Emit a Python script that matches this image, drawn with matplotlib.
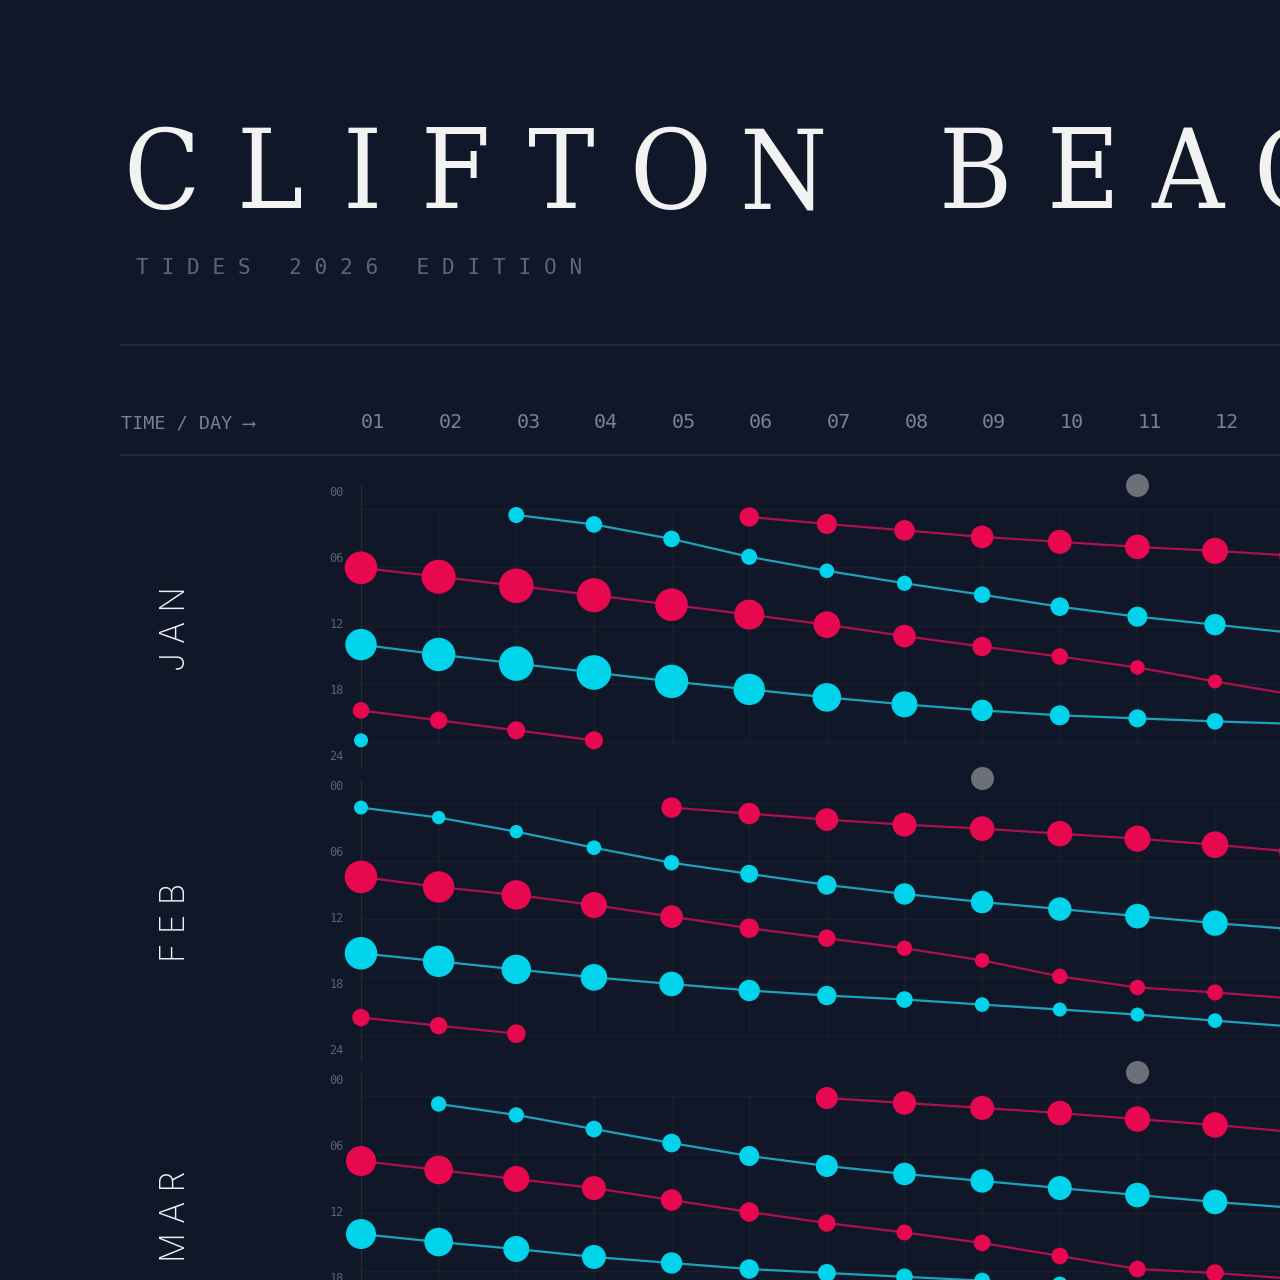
import numpy as np
import matplotlib
matplotlib.use("Agg")
import matplotlib.pyplot as plt
from matplotlib import font_manager as fm
from matplotlib import transforms

nan = np.nan

# ---------------- data ----------------
DAYS = list(range(1, 14))
DAY_LABELS = [f"{d:02d}" for d in range(1, 13)]
HOUR_LABELS = ["00", "06", "12", "18", "24"]
MONTHS = ["J A N", "F E B", "M A R"]
MOON_DAY = [11, 9, 11]

# times (hour of day) per tide series, NaN = no such tide that day
JAN_LOW_A_T = [nan, nan, 0.62, 1.59, 3.08, 4.92, 6.36, 7.64, 8.82, 10.05, 11.08, 11.90, 12.75]
JAN_LOW_A_H = [nan, nan, 1.60, 1.66, 1.66, 1.60, 1.46, 1.52, 1.66, 1.86, 2.00, 2.14, 2.20]
JAN_HIGH_B_T = [nan, nan, nan, nan, nan, 0.82, 1.54, 2.20, 2.87, 3.38, 3.90, 4.31, 4.80]
JAN_HIGH_B_H = [nan, nan, nan, nan, nan, 1.94, 2.00, 2.06, 2.26, 2.40, 2.46, 2.60, 2.66]
JAN_HIGH_C_T = [6.05, 6.97, 7.90, 8.87, 9.85, 10.87, 11.90, 13.08, 14.15, 15.18, 16.30, 17.74, 19.10]
JAN_HIGH_C_H = [3.26, 3.40, 3.46, 3.40, 3.26, 3.00, 2.66, 2.26, 1.94, 1.66, 1.46, 1.40, 1.40]
JAN_LOW_D_T = [13.95, 14.97, 15.90, 16.82, 17.74, 18.56, 19.38, 20.10, 20.72, 21.23, 21.54, 21.85, 22.10]
JAN_LOW_D_H = [3.14, 3.34, 3.46, 3.46, 3.34, 3.14, 2.86, 2.60, 2.14, 2.00, 1.80, 1.66, 1.60]
JAN_HIGH_E_T = [20.72, 21.74, 22.77, 23.80] + [nan] * 9
JAN_HIGH_E_H = [1.66, 1.74, 1.80, 1.80] + [nan] * 9
JAN_LOW_F_T = [23.80] + [nan] * 12
JAN_LOW_F_H = [1.40] + [nan] * 12

FEB_LOW_A_T = [0.52, 1.55, 3.00, 4.65, 6.20, 7.34, 8.48, 9.41, 10.24, 10.96, 11.69, 12.41, 13.03]
FEB_LOW_A_H = [1.40, 1.34, 1.34, 1.46, 1.54, 1.80, 1.94, 2.14, 2.26, 2.34, 2.46, 2.54, 2.60]
FEB_HIGH_B_T = [nan, nan, nan, nan, 0.52, 1.14, 1.76, 2.28, 2.69, 3.21, 3.72, 4.34, 5.07]
FEB_HIGH_B_H = [nan, nan, nan, nan, 2.04, 2.14, 2.26, 2.40, 2.46, 2.54, 2.60, 2.66, 2.70]
FEB_HIGH_C_T = [7.65, 8.69, 9.51, 10.55, 11.74, 12.93, 13.96, 15.00, 16.24, 17.89, 19.03, 19.54, 20.17]
FEB_HIGH_C_H = [3.26, 3.14, 2.94, 2.60, 2.26, 1.94, 1.74, 1.54, 1.46, 1.54, 1.54, 1.60, 1.66]
FEB_LOW_D_T = [15.51, 16.34, 17.17, 17.99, 18.67, 19.34, 19.86, 20.27, 20.79, 21.30, 21.82, 22.44, 23.06]
FEB_LOW_D_H = [3.26, 3.14, 2.94, 2.66, 2.46, 2.14, 1.94, 1.66, 1.46, 1.40, 1.40, 1.46, 1.50]
FEB_HIGH_E_T = [22.13, 22.96, 23.78] + [nan] * 10
FEB_HIGH_E_H = [1.74, 1.74, 1.86] + [nan] * 10

MAR_LOW_A_T = [nan, 0.82, 1.95, 3.40, 4.84, 6.17, 7.20, 8.02, 8.74, 9.47, 10.19, 10.90, 11.50]
MAR_LOW_A_H = [nan, 1.54, 1.54, 1.66, 1.86, 2.00, 2.20, 2.26, 2.34, 2.40, 2.46, 2.46, 2.46]
MAR_HIGH_B_T = [nan] * 6 + [0.21, 0.72, 1.23, 1.75, 2.37, 2.98, 3.70]
MAR_HIGH_B_H = [nan] * 6 + [2.20, 2.34, 2.40, 2.46, 2.54, 2.54, 2.54]
MAR_HIGH_C_T = [6.69, 7.61, 8.54, 9.47, 10.70, 11.93, 13.07, 14.04, 15.12, 16.46, 17.80, 18.21, 18.80]
MAR_HIGH_C_H = [3.00, 2.86, 2.60, 2.40, 2.14, 1.94, 1.74, 1.60, 1.66, 1.66, 1.66, 1.74, 1.80]
MAR_LOW_D_T = [14.20, 15.02, 15.74, 16.56, 17.18, 17.80, 18.21, 18.60, 19.00, 19.40, 19.80, 20.20, 20.70]
MAR_LOW_D_H = [3.00, 2.86, 2.60, 2.40, 2.14, 1.94, 1.80, 1.66, 1.60, 1.60, 1.60, 1.60, 1.60]

# ---------------- style ----------------
BG = "#0f1729"
RED = "#e8084f"
CYAN = "#00d3ea"
RED_LINE = "#b0104c"
CYAN_LINE = "#1aa4bc"
MOON = "#6e7079"
GRID = "#1b1f28"
SPINE = "#2c2b25"
RULE = "#272b33"
TXT_GRAY = "#7a8090"
TICK_GRAY = "#5c6270"
WHITE = "#f2f2f2"

W = H = 1280
DPI = 100
fig = plt.figure(figsize=(W / DPI, H / DPI), dpi=DPI, facecolor=BG)

def fx(px):
    return px / W

def fy(py):
    return 1 - py / H

MONO = ["DejaVu Sans Mono", "DejaVu Sans"]

# title font: prefer a condensed serif if installed
title_prop = None
for f in fm.fontManager.ttflist:
    if "Serif" in f.name and str(f.stretch) in ("condensed", "semi-condensed", "extra-condensed") \
            and f.style == "normal" and f.weight in (400, "normal", "regular", "book"):
        title_prop = fm.FontProperties(fname=f.fname, size=80)
        break
if title_prop is None:
    title_prop = fm.FontProperties(family="Liberation Serif", size=84)

title_letters = list("CLIFTON") + list("BEACH")
title_centers = [162, 270, 362, 455, 561, 670, 783, 975, 1083, 1188, 1292, 1400]
for ch, cx in zip(title_letters, title_centers):
    fig.text(fx(cx), fy(208), ch, fontproperties=title_prop, color=WHITE,
             ha="center", va="baseline")

fig.text(fx(136), fy(268), "T I D E S   2 0 2 6   E D I T I O N", family=MONO,
         fontsize=15.2, color="#5f6574", ha="left", va="center")

# rules
for ry in (345, 455):
    fig.add_artist(plt.Line2D([fx(120), 1.0], [fy(ry), fy(ry)], color=RULE, lw=1.3))

fig.text(fx(121), fy(423), "TIME / DAY \u27f6", family=MONO, fontsize=13.3,
         color=TXT_GRAY, ha="left", va="center")

# panels
X_LEFT = 361
DAY_PX = 77.64
Y0 = [509, 802.5, 1096]
PX_PER_H = 9.72
TOP_OFF = 23
PANEL_H = 281
XMAX = 20

panel_series = [
    [(JAN_LOW_A_T, JAN_LOW_A_H, "low"), (JAN_HIGH_B_T, JAN_HIGH_B_H, "high"),
     (JAN_HIGH_C_T, JAN_HIGH_C_H, "high"), (JAN_LOW_D_T, JAN_LOW_D_H, "low"),
     (JAN_HIGH_E_T, JAN_HIGH_E_H, "high"), (JAN_LOW_F_T, JAN_LOW_F_H, "low")],
    [(FEB_LOW_A_T, FEB_LOW_A_H, "low"), (FEB_HIGH_B_T, FEB_HIGH_B_H, "high"),
     (FEB_HIGH_C_T, FEB_HIGH_C_H, "high"), (FEB_LOW_D_T, FEB_LOW_D_H, "low"),
     (FEB_HIGH_E_T, FEB_HIGH_E_H, "high")],
    [(MAR_LOW_A_T, MAR_LOW_A_H, "low"), (MAR_HIGH_B_T, MAR_HIGH_B_H, "high"),
     (MAR_HIGH_C_T, MAR_HIGH_C_H, "high"), (MAR_LOW_D_T, MAR_LOW_D_H, "low")],
]

PT = 72 / DPI

def size_from_height(h):
    r_px = 5.0 * np.asarray(h, dtype=float)
    return (2 * r_px * PT) ** 2

axes = []
for m, (y0, month, series) in enumerate(zip(Y0, MONTHS, panel_series)):
    top_px = y0 - TOP_OFF
    ax = fig.add_axes([fx(X_LEFT), fy(top_px + PANEL_H), (XMAX - 1) * DAY_PX / W, PANEL_H / H])
    ax.set_facecolor("none")
    h_top = -TOP_OFF / PX_PER_H
    ax.set_ylim(h_top + PANEL_H / PX_PER_H, h_top)
    ax.set_xlim(1, XMAX)
    for s in ("top", "right", "bottom"):
        ax.spines[s].set_visible(False)
    ax.spines["left"].set_color(SPINE)
    ax.spines["left"].set_linewidth(1.0)
    ax.set_xticks([])
    ax.set_yticks([])
    # grid
    ax.hlines([0, 6, 12, 18, 24], 1, XMAX, color=GRID, lw=1.0, zorder=0)
    ax.vlines(range(2, XMAX), 0, 24, color=GRID, lw=1.0, zorder=0)
    # hour labels spread over the panel
    for i, lbl in enumerate(HOUR_LABELS):
        yh = (-16 + 66 * i) / PX_PER_H
        ax.annotate(lbl, xy=(0, yh), xycoords=("axes fraction", "data"),
                    xytext=(-12.5, 0), textcoords="offset points",
                    ha="right", va="center", family=MONO, fontsize=8.6,
                    color=TICK_GRAY, annotation_clip=False)
    # series
    for t, h, kind in series:
        lc = RED_LINE if kind == "high" else CYAN_LINE
        dc = RED if kind == "high" else CYAN
        ax.plot(DAYS, t, color=lc, lw=1.6, zorder=2, solid_capstyle="round")
        ax.scatter(DAYS, t, s=size_from_height(h), color=dc, linewidths=0,
                   zorder=3, clip_on=False)
    # moon marker
    ax.scatter([MOON_DAY[m]], [-2.47], s=(2 * 11.5 * PT) ** 2, color=MOON,
               linewidths=0, zorder=3, clip_on=False)
    # month label
    fig.text(fx(176), fy(y0 + 120), month, rotation=90, ha="center", va="center",
             family=["Inter", "DejaVu Sans"], fontweight="light", fontsize=24,
             color=WHITE)
    axes.append(ax)

# day header labels aligned to the day columns
hdr_tr = transforms.blended_transform_factory(axes[0].transData, fig.transFigure)
for d, lbl in zip(range(1, 13), DAY_LABELS):
    axes[0].text(d, fy(423), lbl, transform=hdr_tr, family=MONO, fontsize=14.5,
                 color=TXT_GRAY, ha="left", va="center", clip_on=False)

fig.savefig("out.png", dpi=DPI, facecolor=BG)
